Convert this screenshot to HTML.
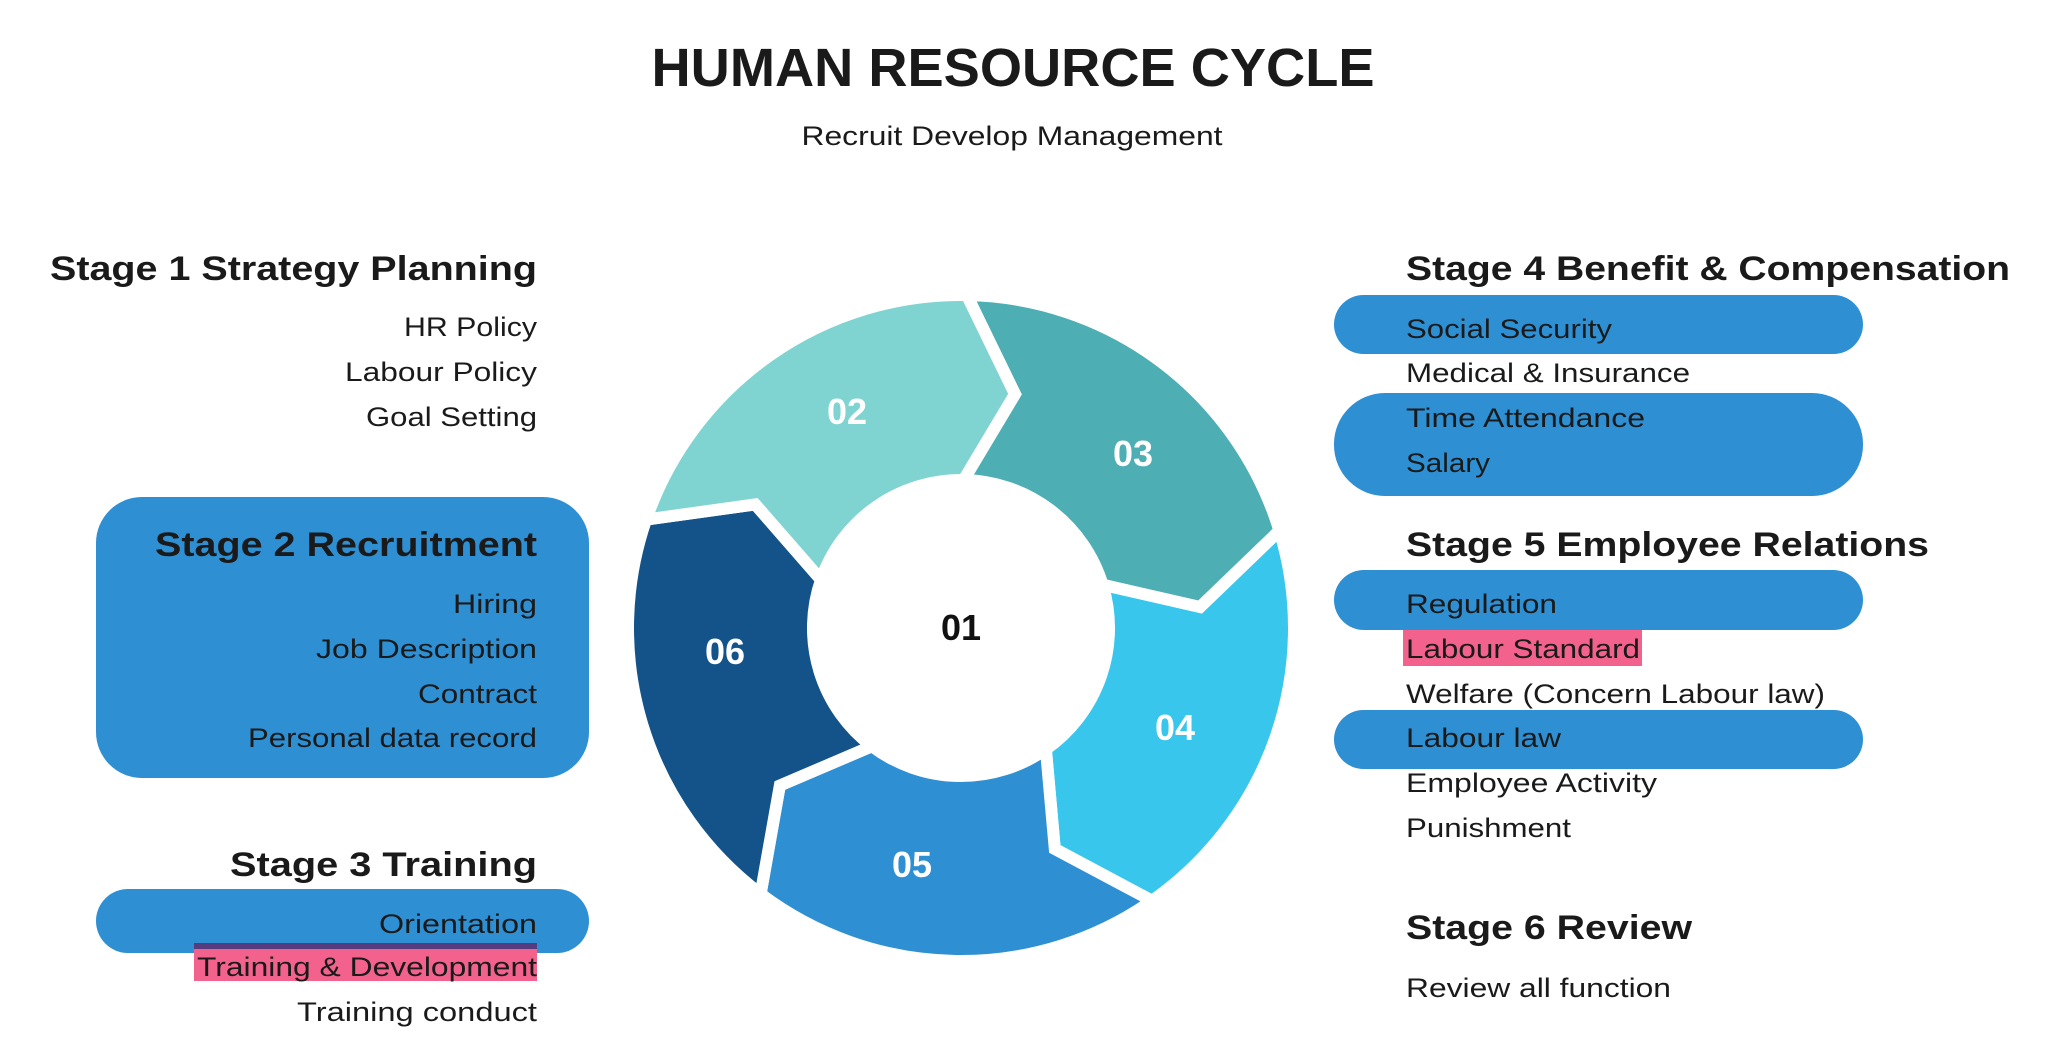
<!DOCTYPE html>
<html><head><meta charset="utf-8"><style>
html,body{margin:0;padding:0;background:#fff;}
svg{display:block;}
text{font-family:"Liberation Sans",Arial,sans-serif;fill:#1a1a1a;}
.h{font-weight:bold;font-size:34px;}
.b{font-size:27px;}
.n{font-weight:bold;font-size:36px;fill:#fff;text-anchor:middle;}
</style></head><body>
<svg width="2048" height="1054" viewBox="0 0 2048 1054" xmlns="http://www.w3.org/2000/svg">
<rect width="2048" height="1054" fill="#fff"/>
<text x="1013" y="86" style="font-weight:bold;font-size:54px" text-anchor="middle" textLength="723" lengthAdjust="spacingAndGlyphs">HUMAN RESOURCE CYCLE</text>
<text x="1012" y="145" style="font-size:27px" text-anchor="middle" textLength="421" lengthAdjust="spacingAndGlyphs">Recruit Develop Management</text>

<defs>
<path id="seg" d="M333,0 A333,333 0 0 1 102.9,316.7 L25.1,238.7 L45.7,140.8 A148,148 0 0 0 148,0 L234.8,49.9 Z" stroke="#fff" stroke-width="12" stroke-linejoin="miter"/>
</defs>
<g transform="translate(961,628)">
<use href="#seg" transform="rotate(-89)" fill="#4daeb4"/>
<use href="#seg" transform="rotate(-17)" fill="#38c6ec"/>
<use href="#seg" transform="rotate(55)" fill="#2f8fd3"/>
<use href="#seg" transform="rotate(127)" fill="#135389"/>
<use href="#seg" transform="rotate(199)" fill="#7fd4d2"/>
<circle r="142" fill="#fff"/>
</g>
<text class="n" x="847" y="424">02</text>
<text class="n" x="1133" y="466">03</text>
<text class="n" x="1175" y="740">04</text>
<text class="n" x="912" y="877">05</text>
<text class="n" x="725" y="664">06</text>
<text class="n" x="961" y="640" style="fill:#111">01</text>

<rect x="96" y="497" width="493" height="281" rx="46" fill="#2e8fd3"/>
<rect x="96" y="889" width="493" height="64" rx="32" fill="#2e8fd3"/>
<rect x="194" y="943" width="343" height="38" fill="#f2628c"/>
<rect x="194" y="943" width="343" height="6" fill="#553c7e"/>

<g text-anchor="end">
<text class="h" x="537" y="280" textLength="487" lengthAdjust="spacingAndGlyphs">Stage 1 Strategy Planning</text>
<text class="b" x="537" y="336" textLength="133" lengthAdjust="spacingAndGlyphs">HR Policy</text>
<text class="b" x="537" y="381" textLength="192" lengthAdjust="spacingAndGlyphs">Labour Policy</text>
<text class="b" x="537" y="426" textLength="171" lengthAdjust="spacingAndGlyphs">Goal Setting</text>
<text class="h" x="537" y="556" textLength="382" lengthAdjust="spacingAndGlyphs">Stage 2 Recruitment</text>
<text class="b" x="537" y="613" textLength="84" lengthAdjust="spacingAndGlyphs">Hiring</text>
<text class="b" x="537" y="658" textLength="221" lengthAdjust="spacingAndGlyphs">Job Description</text>
<text class="b" x="537" y="703" textLength="119" lengthAdjust="spacingAndGlyphs">Contract</text>
<text class="b" x="537" y="747" textLength="289" lengthAdjust="spacingAndGlyphs">Personal data record</text>
<text class="h" x="537" y="876" textLength="307" lengthAdjust="spacingAndGlyphs">Stage 3 Training</text>
<text class="b" x="537" y="933" textLength="158" lengthAdjust="spacingAndGlyphs">Orientation</text>
<text class="b" x="537" y="976" textLength="340" lengthAdjust="spacingAndGlyphs">Training &amp; Development</text>
<text class="b" x="537" y="1021" textLength="240" lengthAdjust="spacingAndGlyphs">Training conduct</text>
</g>

<rect x="1334" y="295" width="529" height="59" rx="29.5" fill="#2e8fd3"/>
<rect x="1334" y="393" width="529" height="103" rx="51" fill="#2e8fd3"/>
<rect x="1334" y="570" width="529" height="60" rx="30" fill="#2e8fd3"/>
<rect x="1334" y="710" width="529" height="59" rx="29.5" fill="#2e8fd3"/>
<rect x="1403" y="630" width="239" height="36" fill="#f2628c"/>

<g>
<text class="h" x="1406" y="280" textLength="604" lengthAdjust="spacingAndGlyphs">Stage 4 Benefit &amp; Compensation</text>
<text class="b" x="1406" y="338" textLength="206" lengthAdjust="spacingAndGlyphs">Social Security</text>
<text class="b" x="1406" y="382" textLength="284" lengthAdjust="spacingAndGlyphs">Medical &amp; Insurance</text>
<text class="b" x="1406" y="427" textLength="239" lengthAdjust="spacingAndGlyphs">Time Attendance</text>
<text class="b" x="1406" y="472" textLength="84" lengthAdjust="spacingAndGlyphs">Salary</text>
<text class="h" x="1406" y="556" textLength="523" lengthAdjust="spacingAndGlyphs">Stage 5 Employee Relations</text>
<text class="b" x="1406" y="613" textLength="151" lengthAdjust="spacingAndGlyphs">Regulation</text>
<text class="b" x="1406" y="658" textLength="234" lengthAdjust="spacingAndGlyphs">Labour Standard</text>
<text class="b" x="1406" y="703" textLength="419" lengthAdjust="spacingAndGlyphs">Welfare (Concern Labour law)</text>
<text class="b" x="1406" y="747" textLength="155" lengthAdjust="spacingAndGlyphs">Labour law</text>
<text class="b" x="1406" y="792" textLength="251" lengthAdjust="spacingAndGlyphs">Employee Activity</text>
<text class="b" x="1406" y="837" textLength="165" lengthAdjust="spacingAndGlyphs">Punishment</text>
<text class="h" x="1406" y="939" textLength="286" lengthAdjust="spacingAndGlyphs">Stage 6 Review</text>
<text class="b" x="1406" y="997" textLength="265" lengthAdjust="spacingAndGlyphs">Review all function</text>
</g>
</svg>
</body></html>
